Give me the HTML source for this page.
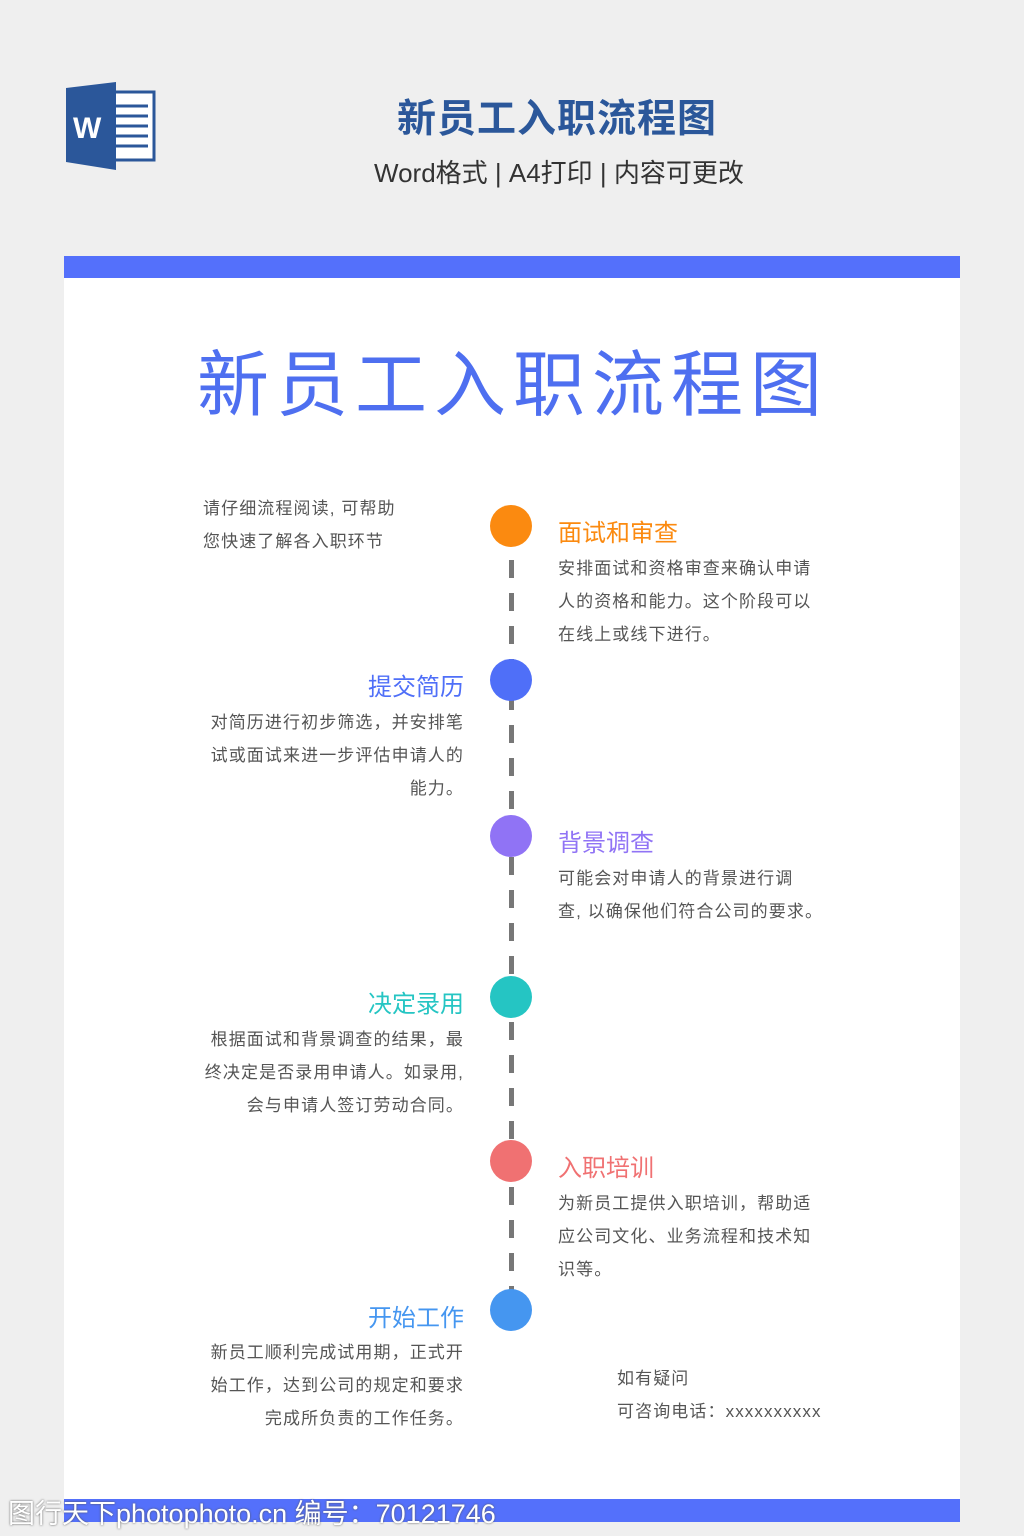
<!DOCTYPE html>
<html><head><meta charset="utf-8"><style>
body{margin:0;width:1024px;height:1536px;background:#efefef;position:relative;overflow:hidden;font-family:"Liberation Sans","Noto Sans CJK SC",sans-serif}
.a{position:absolute;white-space:nowrap}
.card{position:absolute;left:64px;top:256px;width:896px;height:1266px;background:#fff}
.bar{position:absolute;left:64px;width:896px;background:#5470fb}
.dot{position:absolute;width:42px;height:42px;border-radius:50%;left:490px}
.t{position:absolute;font-size:24px}
.p{position:absolute;font-size:17px;line-height:33px;color:#555;letter-spacing:1.1px}
.L{right:560px;text-align:right}
.R{left:558px}
</style></head><body>
<svg class="a" style="left:64px;top:82px" width="92" height="88" viewBox="0 0 92 88">
<rect x="38" y="10" width="52" height="68" fill="#fff" stroke="#2b579a" stroke-width="3"/>
<g stroke="#2b579a" stroke-width="3"><line x1="52" y1="24" x2="84" y2="24"/><line x1="52" y1="34" x2="84" y2="34"/><line x1="52" y1="44" x2="84" y2="44"/><line x1="52" y1="54" x2="84" y2="54"/><line x1="52" y1="64" x2="84" y2="64"/></g>
<polygon points="2,6 52,0 52,88 2,80" fill="#2b579a"/>
<text x="9" y="56" font-family="Liberation Sans" font-weight="bold" font-size="30" fill="#fff">W</text>
</svg>
<div class="a" style="left:397px;top:88px;font-size:39px;font-weight:bold;color:#2b579a;letter-spacing:1px">新员工入职流程图</div>
<div class="a" style="left:374px;top:153px;font-size:26px;color:#333">Word格式 | A4打印 | 内容可更改</div>
<div class="card"></div>
<div class="bar" style="top:256px;height:22px"></div>
<div class="bar" style="top:1499px;height:23px"></div>
<div class="a" style="left:197px;top:326px;font-size:72px;color:#4e6ff0;letter-spacing:7px">新员工入职流程图</div>
<div class="a" style="left:509px;top:560px;width:5px;height:732px;background:repeating-linear-gradient(#777 0 18px,transparent 18px 33px)"></div>
<div class="dot" style="top:505px;background:#fb8a10"></div>
<div class="dot" style="top:659px;background:#4f6ff8"></div>
<div class="dot" style="top:815px;background:#9073f5"></div>
<div class="dot" style="top:976px;background:#25c5c3"></div>
<div class="dot" style="top:1140px;background:#f07172"></div>
<div class="dot" style="top:1289px;background:#4596f0"></div>
<div class="p" style="left:203px;top:492px">请仔细流程阅读, 可帮助<br>您快速了解各入职环节</div>
<div class="t R" style="top:513px;color:#fb8a10">面试和审查</div>
<div class="p R" style="top:552px">安排面试和资格审查来确认申请<br>人的资格和能力。这个阶段可以<br>在线上或线下进行。</div>
<div class="t L" style="top:667px;color:#4f6ff8">提交简历</div>
<div class="p L" style="top:706px">对简历进行初步筛选，并安排笔<br>试或面试来进一步评估申请人的<br>能力。</div>
<div class="t R" style="top:823px;color:#9073f5">背景调查</div>
<div class="p R" style="top:862px">可能会对申请人的背景进行调<br>查, 以确保他们符合公司的要求。</div>
<div class="t L" style="top:984px;color:#25c5c3">决定录用</div>
<div class="p L" style="top:1023px">根据面试和背景调查的结果，最<br>终决定是否录用申请人。如录用,<br>会与申请人签订劳动合同。</div>
<div class="t R" style="top:1148px;color:#f07172">入职培训</div>
<div class="p R" style="top:1187px">为新员工提供入职培训，帮助适<br>应公司文化、业务流程和技术知<br>识等。</div>
<div class="t L" style="top:1298px;color:#4596f0">开始工作</div>
<div class="p L" style="top:1336px">新员工顺利完成试用期，正式开<br>始工作，达到公司的规定和要求<br>完成所负责的工作任务。</div>
<div class="p" style="left:617px;top:1362px">如有疑问<br>可咨询电话：xxxxxxxxxx</div>
<div class="a" style="left:8px;top:1492px;font-size:27px;color:#fff;text-shadow:0 0 2px #555">图行天下photophoto.cn 编号：70121746</div>
</body></html>
